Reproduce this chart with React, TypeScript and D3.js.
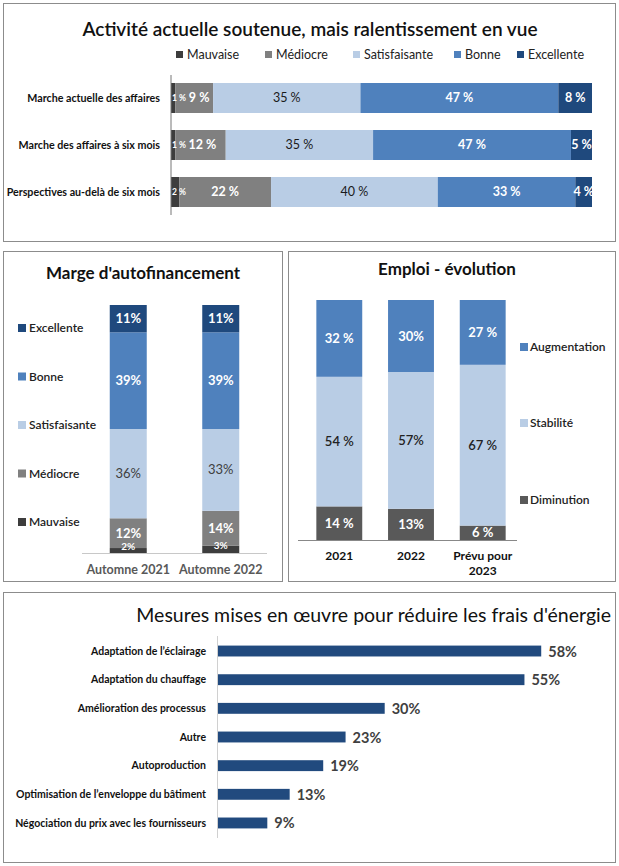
import React from 'react';
import * as d3 from 'd3';

// ---- Activité actuelle ----
const activityRows = ['Marche actuelle des affaires', 'Marche des affaires à six mois', 'Perspectives au-delà de six mois'];
const ratingKeys = ['Mauvaise', 'Médiocre', 'Satisfaisante', 'Bonne', 'Excellente'];
const activityMauvaise = [1, 1, 2];
const activityMediocre = [9, 12, 22];
const activitySatisfaisante = [35, 35, 40];
const activityBonne = [47, 47, 33];
const activityExcellente = [8, 5, 4];

// ---- Marge d'autofinancement ----
const margeCats = ['Automne 2021', 'Automne 2022'];
const margeMauvaise = [2, 3];
const margeMediocre = [12, 14];
const margeSatisfaisante = [36, 33];
const margeBonne = [39, 39];
const margeExcellente = [11, 11];

// ---- Emploi ----
const emploiCats = ['2021', '2022', 'Prévu pour|2023'];
const emploiKeys = ['Diminution', 'Stabilité', 'Augmentation'];
const emploiDiminution = [14, 13, 6];
const emploiStabilite = [54, 57, 67];
const emploiAugmentation = [32, 30, 27];
const emploiLabelDiminution = ['14 %', '13%', '6 %'];
const emploiLabelStabilite = ['54 %', '57%', '67 %'];
const emploiLabelAugmentation = ['32 %', '30%', '27 %'];

// ---- Mesures énergie ----
const mesures = [
  'Adaptation de l’éclairage',
  'Adaptation du chauffage',
  'Amélioration des processus',
  'Autre',
  'Autoproduction',
  'Optimisation de l’enveloppe du bâtiment',
  'Négociation du prix avec les fournisseurs',
];
const mesuresValues = [58, 55, 30, 23, 19, 13, 9];

const ratingColors: Record<string, string> = {
  Mauvaise: '#3d3d3d',
  Médiocre: '#808080',
  Satisfaisante: '#b9cde5',
  Bonne: '#4f81bd',
  Excellente: '#1f497d',
};
const emploiColors: Record<string, string> = {
  Diminution: '#595959',
  Stabilité: '#b9cde5',
  Augmentation: '#4f81bd',
};

const FONT = 'Lato, "Open Sans", sans-serif';
const BORDER = '#8c8c8c';

function ActivityPanel() {
  const rows = activityRows.map((r, i) => ({
    row: r,
    Mauvaise: activityMauvaise[i],
    Médiocre: activityMediocre[i],
    Satisfaisante: activitySatisfaisante[i],
    Bonne: activityBonne[i],
    Excellente: activityExcellente[i],
  }));
  const series = d3.stack<any>().keys(ratingKeys).offset(d3.stackOffsetExpand)(rows);
  const x = d3.scaleLinear().domain([0, 1]).range([171, 592]);
  const y = d3.scaleBand().domain(activityRows).range([74.5, 215.5]).paddingInner(0.362).paddingOuter(0.181);
  const legendX = [176, 265, 353, 454, 517];
  return (
    <g>
      <rect x={3.5} y={3.5} width={612} height={238} fill="#fff" stroke={BORDER} />
      <text x={310} y={36} textAnchor="middle" fontSize={19} fontWeight={600} fill="#111">
        Activité actuelle soutenue, mais ralentissement en vue
      </text>
      {ratingKeys.map((k, i) => (
        <g key={k} transform={`translate(${legendX[i]},55)`}>
          <rect x={0} y={-4} width={7} height={7} fill={ratingColors[k]} />
          <text x={11} y={4} fontSize={12.5} fill="#222">{k}</text>
        </g>
      ))}
      {series.map((s) => (
        <g key={s.key}>
          {s.map((d, i) => (
            <rect
              key={i}
              x={x(d[0])}
              y={y(activityRows[i])}
              width={x(d[1]) - x(d[0])}
              height={y.bandwidth()}
              fill={ratingColors[s.key]}
            />
          ))}
        </g>
      ))}
      {series.map((s) => (
        <g key={s.key + '-lbl'}>
          {s.map((d, i) => {
            const x0 = x(d[0]);
            const x1 = x(d[1]);
            const yy = y(activityRows[i])!;
            const v = (rows[i] as any)[s.key];
            const dark = s.key === 'Satisfaisante';
            const small = s.key === 'Mauvaise';
            const label = `${v} %`;
            let cx = (x0 + x1) / 2;
            // keep the Médiocre label clear of the small Mauvaise label on its left
            if (s.key === 'Médiocre') cx = Math.max(cx, x0 + 14 + label.length * 3.3);
            return (
              <text
                key={i}
                x={small ? x0 + 1 : cx}
                y={yy + y.bandwidth() / 2}
                dy="0.35em"
                textAnchor={small ? 'start' : 'middle'}
                fontSize={small ? 8.5 : 12.5}
                fontWeight={dark ? 400 : 700}
                fill={dark ? '#1a1a1a' : '#fff'}
              >
                {label}
              </text>
            );
          })}
        </g>
      ))}
      <line x1={171} x2={171} y1={75} y2={215} stroke="#777" />
      {activityRows.map((r) => (
        <text key={r} x={160} y={y(r)! + y.bandwidth() / 2} dy="0.35em" textAnchor="end" fontSize={10.7} fontWeight={700} fill="#111">
          {r}
        </text>
      ))}
    </g>
  );
}

function MargePanel() {
  const rows = margeCats.map((c, i) => ({
    cat: c,
    Mauvaise: margeMauvaise[i],
    Médiocre: margeMediocre[i],
    Satisfaisante: margeSatisfaisante[i],
    Bonne: margeBonne[i],
    Excellente: margeExcellente[i],
  }));
  const series = d3.stack<any>().keys(ratingKeys)(rows);
  const x = d3.scaleBand().domain(margeCats).range([82, 267]).paddingInner(0.6).paddingOuter(0.3);
  const y = d3.scaleLinear().domain([0, 100]).range([553, 305]);
  const legendOrder = [...ratingKeys].reverse();
  return (
    <g>
      <rect x={3.5} y={251.5} width={279} height={330} fill="#fff" stroke={BORDER} />
      <text x={143} y={279} textAnchor="middle" fontSize={17} fontWeight={700} fill="#111">
        Marge d'autofinancement
      </text>
      {series.map((s) => (
        <g key={s.key}>
          {s.map((d, i) => (
            <rect
              key={i}
              x={x(margeCats[i])}
              y={y(d[1])}
              width={x.bandwidth()}
              height={y(d[0]) - y(d[1])}
              fill={ratingColors[s.key]}
            />
          ))}
        </g>
      ))}
      <line x1={82} x2={267} y1={553.5} y2={553.5} stroke="#c8c8c8" />
      {series.map((s) => (
        <g key={s.key + '-lbl'}>
          {s.map((d, i) => {
            const y0 = y(d[0]);
            const y1 = y(d[1]);
            const xx = x(margeCats[i])!;
            const v = (rows[i] as any)[s.key];
            const dark = s.key === 'Satisfaisante';
            const small = s.key === 'Mauvaise';
            return (
              <text
                key={i}
                x={xx + x.bandwidth() / 2}
                y={(y0 + y1) / 2 - (small ? 4 : 0)}
                dy="0.35em"
                textAnchor="middle"
                fontSize={small ? 10 : 13}
                fontWeight={dark ? 400 : 700}
                fill={dark ? '#404040' : '#fff'}
              >
                {v}%
              </text>
            );
          })}
        </g>
      ))}
      {margeCats.map((c) => (
        <text key={c} x={x(c)! + x.bandwidth() / 2} y={574} textAnchor="middle" fontSize={12.5} fontWeight={700} fill="#595959">
          {c}
        </text>
      ))}
      {legendOrder.map((k, i) => (
        <g key={k} transform={`translate(18,${328 + i * 48.5})`}>
          <rect x={0} y={-4} width={8} height={8} fill={ratingColors[k]} />
          <text x={11} y={4} fontSize={12} fontWeight={600} fill="#222">{k}</text>
        </g>
      ))}
    </g>
  );
}

function EmploiPanel() {
  const rows = emploiCats.map((c, i) => ({
    cat: c,
    Diminution: emploiDiminution[i],
    Stabilité: emploiStabilite[i],
    Augmentation: emploiAugmentation[i],
  }));
  const labels: Record<string, string[]> = {
    Diminution: emploiLabelDiminution,
    Stabilité: emploiLabelStabilite,
    Augmentation: emploiLabelAugmentation,
  };
  const series = d3.stack<any>().keys(emploiKeys)(rows);
  const x = d3.scaleBand().domain(emploiCats).range([302, 520]).paddingInner(0.36).paddingOuter(0.2);
  const y = d3.scaleLinear().domain([0, 100]).range([540, 300]);
  const legendY: Record<string, number> = { Augmentation: 347, Stabilité: 423, Diminution: 500 };
  return (
    <g>
      <rect x={288.5} y={251.5} width={327} height={330} fill="#fff" stroke={BORDER} />
      <text x={447} y={275} textAnchor="middle" fontSize={17} fontWeight={700} fill="#111">
        Emploi - évolution
      </text>
      {series.map((s) => (
        <g key={s.key}>
          {s.map((d, i) => {
            const y0 = y(d[0]);
            const y1 = y(d[1]);
            const xx = x(emploiCats[i])!;
            const dark = s.key === 'Stabilité';
            return (
              <g key={i}>
                <rect x={xx} y={y1} width={x.bandwidth()} height={y0 - y1} fill={emploiColors[s.key]} />
                <text
                  x={xx + x.bandwidth() / 2}
                  y={(y0 + y1) / 2}
                  dy="0.35em"
                  textAnchor="middle"
                  fontSize={13}
                  fontWeight={dark ? 600 : 700}
                  fill={dark ? '#222' : '#fff'}
                >
                  {labels[s.key][i]}
                </text>
              </g>
            );
          })}
        </g>
      ))}
      <line x1={298} x2={517} y1={540.5} y2={540.5} stroke="#888" />
      {emploiCats.map((c) => (
        <text key={c} x={x(c)! + x.bandwidth() / 2} y={560} textAnchor="middle" fontSize={12} fontWeight={700} fill="#111">
          {c.split('|').map((part, j) => (
            <tspan key={j} x={x(c)! + x.bandwidth() / 2} dy={j === 0 ? 0 : 15}>{part}</tspan>
          ))}
        </text>
      ))}
      {emploiKeys.map((k) => (
        <g key={k} transform={`translate(520,${legendY[k]})`}>
          <rect x={0} y={-4} width={8} height={8} fill={emploiColors[k]} />
          <text x={10} y={4} fontSize={12} fontWeight={600} fill="#222">{k}</text>
        </g>
      ))}
    </g>
  );
}

function MesuresPanel() {
  const x = d3.scaleLinear().domain([0, 100]).range([217, 776]);
  const y = d3.scaleBand().domain(mesures).range([636.7, 837.3]).paddingInner(0.62).paddingOuter(0.31);
  return (
    <g>
      <rect x={3.5} y={592.5} width={612} height={270} fill="#fff" stroke={BORDER} />
      <text x={611} y={622} textAnchor="end" fontSize={19.5} fontWeight={400} fill="#111">
        Mesures mises en œuvre pour réduire les frais d'énergie
      </text>
      {mesures.map((m, i) => (
        <g key={m}>
          <rect x={x(0)} y={y(m)} width={x(mesuresValues[i]) - x(0)} height={y.bandwidth()} fill="#214a7e" />
          <text x={x(mesuresValues[i]) + 7} y={y(m)! + y.bandwidth() / 2} dy="0.38em" fontSize={14.5} fontWeight={700} fill="#404040">
            {mesuresValues[i]}%
          </text>
          <text x={206} y={y(m)! + y.bandwidth() / 2} dy="0.35em" textAnchor="end" fontSize={10.5} fontWeight={700} fill="#111">
            {m}
          </text>
        </g>
      ))}
      <line x1={217.5} x2={217.5} y1={636} y2={838} stroke="#d0d0d0" />
    </g>
  );
}

export default function App() {
  return (
    <div style={{ position: 'absolute', left: 0, top: 0 }}>
      <svg width={619} height={866} style={{ display: 'block', fontFamily: FONT }}>
        <rect width={619} height={866} fill="#fff" />
        <ActivityPanel />
        <MargePanel />
        <EmploiPanel />
        <MesuresPanel />
      </svg>
    </div>
  );
}
